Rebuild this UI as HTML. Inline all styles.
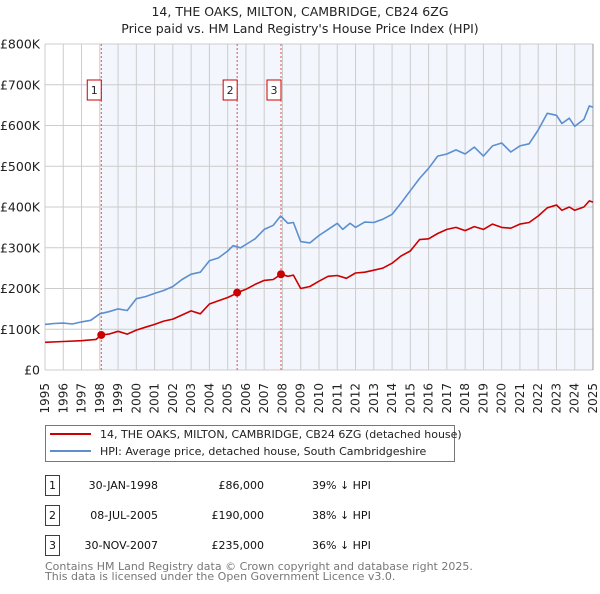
<!DOCTYPE html>
<html><head><meta charset="utf-8"><style>
body{margin:0;background:#fff;font-family:"DejaVu Sans","Liberation Sans",sans-serif;}
svg text{font-family:"DejaVu Sans","Liberation Sans",sans-serif;}
</style></head><body>
<svg id="c" width="600" height="590" viewBox="0 0 600 590" xmlns="http://www.w3.org/2000/svg">
<text x="300" y="16" text-anchor="middle" font-size="12.5" fill="#222">14, THE OAKS, MILTON, CAMBRIDGE, CB24 6ZG</text>
<text x="300" y="33" text-anchor="middle" font-size="12.5" fill="#222">Price paid vs. HM Land Registry's House Price Index (HPI)</text>
<g id="plot"></g>
<g>
<rect x="45.5" y="425.5" width="409" height="36" fill="#fff" stroke="#777"/>
<line x1="50" y1="434" x2="91" y2="434" stroke="#cc0000" stroke-width="2"/>
<text x="100" y="438" font-size="11" fill="#222">14, THE OAKS, MILTON, CAMBRIDGE, CB24 6ZG (detached house)</text>
<line x1="50" y1="451" x2="91" y2="451" stroke="#5b8fd0" stroke-width="2"/>
<text x="100" y="455" font-size="11" fill="#222">HPI: Average price, detached house, South Cambridgeshire</text>
</g>
<g id="tbl" font-size="11" fill="#111"></g>
<text x="45" y="570" font-size="11" fill="#777">Contains HM Land Registry data © Crown copyright and database right 2025.</text>
<text x="45" y="580" font-size="11" fill="#777">This data is licensed under the Open Government Licence v3.0.</text>
</svg>
<script>
const hpiYears=[1995,1995.5,1996,1996.5,1997,1997.5,1998,1998.5,1999,1999.5,2000,2000.5,2001,2001.5,2002,2002.5,2003,2003.5,2004,2004.5,2005,2005.3,2005.7,2006,2006.5,2007,2007.5,2007.9,2008.3,2008.6,2009,2009.5,2010,2010.5,2011,2011.3,2011.7,2012,2012.5,2013,2013.5,2014,2014.5,2015,2015.5,2016,2016.5,2017,2017.5,2018,2018.5,2019,2019.5,2020,2020.5,2021,2021.5,2022,2022.5,2023,2023.3,2023.7,2024,2024.5,2024.8,2025];
const hpiValues=[112,114,115,113,118,122,138,143,150,146,175,180,188,195,205,222,235,240,268,275,292,305,300,308,322,345,355,378,360,362,315,312,330,345,360,345,360,350,363,362,370,382,410,440,470,495,525,530,540,530,547,525,550,557,535,550,555,589,630,625,605,618,598,615,648,645];
const ppYears=[1995,1996,1997,1997.8,1998.08,1998.5,1999,1999.5,2000,2000.5,2001,2001.5,2002,2002.5,2003,2003.5,2004,2004.5,2005,2005.3,2005.52,2006,2006.5,2007,2007.5,2007.92,2008.3,2008.6,2009,2009.5,2010,2010.5,2011,2011.5,2012,2012.5,2013,2013.5,2014,2014.5,2015,2015.5,2016,2016.5,2017,2017.5,2018,2018.5,2019,2019.5,2020,2020.5,2021,2021.5,2022,2022.5,2023,2023.3,2023.7,2024,2024.5,2024.8,2025];
const ppValues=[68,70,72,75,86,88,95,88,98,105,112,120,125,135,145,138,162,170,178,184,190,198,210,220,222,235,230,233,200,205,218,230,232,225,238,240,245,250,262,280,292,320,322,335,345,350,342,352,345,358,350,348,358,362,378,398,405,392,400,392,400,415,412];
const saleYears=[1998.08,2005.52,2007.92];
const saleValues=[86,190,235];
const saleLabels=["1","2","3"];
const saleDates=["30-JAN-1998","08-JUL-2005","30-NOV-2007"];
const salePrices=["£86,000","£190,000","£235,000"];
const saleDiffs=["39% ↓ HPI","38% ↓ HPI","36% ↓ HPI"];
const yTicks=[0,100,200,300,400,500,600,700,800];
const yTickLabels=["£0","£100K","£200K","£300K","£400K","£500K","£600K","£700K","£800K"];
const xTicks=[1995,1996,1997,1998,1999,2000,2001,2002,2003,2004,2005,2006,2007,2008,2009,2010,2011,2012,2013,2014,2015,2016,2017,2018,2019,2020,2021,2022,2023,2024,2025];

const X0=45,X1=593,Y0=370,Y1=44;
const x=v=>X0+(v-1995)/30*(X1-X0);
const y=v=>Y0-v/800*(Y0-Y1);
const NS="http://www.w3.org/2000/svg";
const plot=document.getElementById('plot');
function mk(tag,attrs,parent,text){const e=document.createElementNS(NS,tag);for(const k in attrs)e.setAttribute(k,attrs[k]);if(text!==undefined)e.textContent=text;(parent||plot).appendChild(e);return e;}

const bg=mk('rect',{x:X0,y:Y1,width:X1-X0,height:Y0-Y1,fill:'#fff'});


const sh=mk('rect',{x:x(saleYears[0]),y:Y1,width:X1-x(saleYears[0]),height:Y0-Y1,fill:'#f3f6fd'});


xTicks.forEach(t=>{
  const l=mk('line',{x1:x(t),x2:x(t),y1:Y1,y2:Y0,stroke:'#cccccc','stroke-width':1});
  
  
  const tx=mk('text',{transform:`translate(${x(t)+4},383) rotate(-90)`,'text-anchor':'end','font-size':12,fill:'#222'},plot,String(t));
  
  
});
yTicks.forEach((t,i)=>{
  const l=mk('line',{x1:X0,x2:X1,y1:y(t),y2:y(t),stroke:'#cccccc','stroke-width':1});
  
  
  const tx=mk('text',{x:40,y:y(t)+4.5,'text-anchor':'end','font-size':12.5,fill:'#222'},plot,yTickLabels[i]);
  
  
});
const ax=mk('line',{x1:X1,x2:X1,y1:Y1,y2:Y0,stroke:'#999','stroke-width':1});


saleYears.forEach((s,i)=>{
  const l=mk('line',{x1:x(s),x2:x(s),y1:Y1,y2:Y0,stroke:'#e05050','stroke-width':1,'stroke-dasharray':'2,2'});
  
  
  const r=mk('rect',{x:x(s)-14,y:80,width:14,height:20,fill:'#fff',stroke:'#cc0000'});
  
  
  const t=mk('text',{x:x(s)-7,y:94,'text-anchor':'middle','font-size':11,fill:'#222'},plot,saleLabels[i]);
  
  
});
function path(xs,vs){return xs.map((v,i)=>(i?'L':'M')+x(v).toFixed(1)+','+y(vs[i]).toFixed(1)).join('');}
const hp=mk('path',{d:path(hpiYears,hpiValues),fill:'none',stroke:'#5b8fd0','stroke-width':1.6,'stroke-linejoin':'round'});


const pp=mk('path',{d:path(ppYears,ppValues),fill:'none',stroke:'#cc0000','stroke-width':1.6,'stroke-linejoin':'round'});


saleYears.forEach((s,i)=>{
  const c=mk('circle',{cx:x(s),cy:y(saleValues[i]),r:4,fill:'#cc0000'});
  
  
});
const tbl=document.getElementById('tbl');
saleYears.forEach((s,i)=>{
  const ry=475+i*30;
  const r=mk('rect',{x:45.5,y:ry+0.5,width:14,height:20,fill:'#fff',stroke:'#cc0000'},tbl);
  
  
  const a=mk('text',{x:52.5,y:ry+14,'text-anchor':'middle'},tbl,saleLabels[i]);
  
  
  const d=mk('text',{x:158,y:ry+14,'text-anchor':'end'},tbl,saleDates[i]);
  
  
  const p=mk('text',{x:264,y:ry+14,'text-anchor':'end'},tbl,salePrices[i]);
  
  
  const h=mk('text',{x:312,y:ry+14},tbl,saleDiffs[i]);
  
  
});
</script>
</body></html>
